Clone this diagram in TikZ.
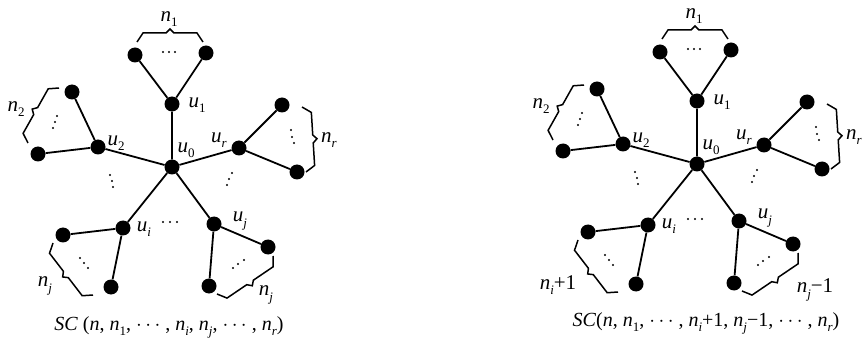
\documentclass[tikz,border=0pt]{standalone}
\usepackage{fontspec}
\setmainfont{Liberation Serif}
\usetikzlibrary{calc}
\newcommand\lb[2]{\textit{#1}\raisebox{-0.55ex}{\fontsize{13}{13}\selectfont #2}}
\newcommand\mybrace[2]{\draw[brc] (#1) -- ($(#1)!6pt!(#2)!9pt!90:(#2)$) -- ($(#1)!0.5!(#2)!-4pt!(#2)!9pt!90:(#2)$) -- ($(#1)!0.5!(#2)!13pt!90:(#2)$) -- ($(#1)!0.5!(#2)!4pt!(#2)!9pt!90:(#2)$) -- ($(#2)!6pt!(#1)!9pt!-90:(#1)$) -- (#2);}
\newcommand\dotsat[3]{\fill (#1) circle (1.1pt); \fill (#2) circle (1.1pt); \fill (#3) circle (1.1pt);}
\tikzset{
  v/.style={circle,fill=black,inner sep=0pt,minimum size=15pt},
  e/.style={line width=1.8pt},
  brc/.style={line width=1.5pt,line join=miter},
  lab/.style={inner sep=0pt,font=\fontsize{21}{21}\selectfont},
  captxt/.style={inner sep=0pt,font=\fontsize{20}{20}\selectfont},
}
\newcommand\mygraph[1]{%
  \node[v] (#1u0) at (172,167) {};
  \node[v] (#1u1) at (172,104) {};
  \node[v] (#1a1) at (135,55) {};
  \node[v] (#1a2) at (206,53) {};
  \node[v] (#1u2) at (98,147) {};
  \node[v] (#1b1) at (72,92) {};
  \node[v] (#1b2) at (38,154) {};
  \node[v] (#1ur) at (239,148) {};
  \node[v] (#1c1) at (282,105) {};
  \node[v] (#1c2) at (297,172) {};
  \node[v] (#1ui) at (123,228) {};
  \node[v] (#1d1) at (63,235) {};
  \node[v] (#1d2) at (111,287) {};
  \node[v] (#1uj) at (214,224) {};
  \node[v] (#1f1) at (268,247) {};
  \node[v] (#1f2) at (209,286) {};
  \draw[e] (#1u0) -- (#1u1) (#1u0) -- (#1u2) (#1u0) -- (#1ur) (#1u0) -- (#1ui) (#1u0) -- (#1uj);
  \draw[e] (#1a1) -- (#1u1) -- (#1a2);
  \draw[e] (#1b1) -- (#1u2) -- (#1b2);
  \draw[e] (#1c1) -- (#1ur) -- (#1c2);
  \draw[e] (#1d1) -- (#1ui) -- (#1d2);
  \draw[e] (#1f1) -- (#1uj) -- (#1f2);
  % labels
  \node[lab] (#1lu0) at (186,150) {\lb{u}{0}};
  \node[lab] (#1lu1) at (197,105) {\lb{u}{1}};
  \node[lab] (#1lu2) at (116,143) {\lb{u}{2}};
  \node[lab] (#1lur) at (219,140) {\lb{u}{\textit{r}}};
  \node[lab] (#1lui) at (144,229) {\lb{u}{\textit{i}}};
  \node[lab] (#1luj) at (240,221) {\lb{u}{\textit{j}}};
  \node[lab] (#1ln1) at (169,19) {\lb{n}{1}};
  \node[lab] (#1ln2) at (16,109) {\lb{n}{2}};
  \node[lab] (#1lnr) at (329,140) {\lb{n}{\textit{r}}};
  % braces
  \coordinate (#1p1) at (137,42); \coordinate (#1q1) at (203,42);
  \coordinate (#1p2) at (28,143); \coordinate (#1q2) at (59,88);
  \coordinate (#1p3) at (302,107); \coordinate (#1q3) at (306,172);
  \coordinate (#1p4) at (93,295); \coordinate (#1q4) at (53,243);
  \coordinate (#1p5) at (273,256); \coordinate (#1q5) at (217,294);
  \mybrace{#1p1}{#1q1}
  \mybrace{#1p2}{#1q2}
  \mybrace{#1p3}{#1q3}
  \mybrace{#1p4}{#1q4}
  \mybrace{#1p5}{#1q5}
  % dots
  \dotsat{163,52}{169,52}{175,52}
  \dotsat{57,116}{55,122}{53,128}
  \dotsat{291,130}{292,137}{294,143}
  \dotsat{80,258}{84,263}{88,268}
  \dotsat{233,268}{238,264}{244,260}
  \dotsat{110,175}{112,181}{113,187}
  \dotsat{232,173}{229,179}{227,185}
  \dotsat{163,222}{170,222}{177,222}
}
\begin{document}
\begin{tikzpicture}[x=1pt,y=-1pt]
\useasboundingbox (0,0) rectangle (862,339);
\mygraph{L}
\node[lab] (Lnj1) at (45,286) {\lb{n}{\textit{j}}};
\node[lab] (Lnj2) at (266,295) {\lb{n}{\textit{j}}};
\node[captxt] (capL) at (169,327) {\textit{SC} (\textit{n}, \lb{n}{1}, $\cdots$ , \lb{n}{\textit{i}}, \lb{n}{\textit{j}}, $\cdots$ , \lb{n}{\textit{r}})};
\begin{scope}[shift={(525,-3)}]
\mygraph{R}
\end{scope}
\node[lab] (Rni) at (558,285) {\lb{n}{\textit{i}}+1};
\node[lab] (Rnj) at (815,290) {\lb{n}{\textit{j}}−1};
\node[captxt] (capR) at (706,323) {\textit{SC}(\textit{n}, \lb{n}{1}, $\cdots$ , \lb{n}{\textit{i}}+1, \lb{n}{\textit{j}}−1, $\cdots$ , \lb{n}{\textit{r}})};
\end{tikzpicture}
\end{document}
